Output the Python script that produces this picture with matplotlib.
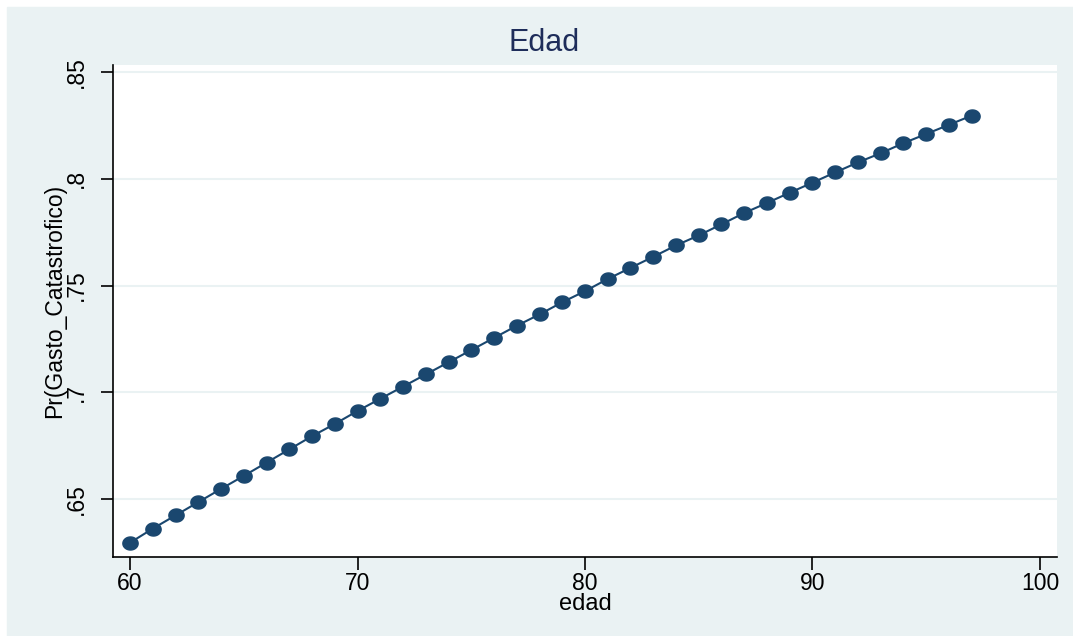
import numpy as np
import matplotlib.pyplot as plt
from matplotlib.patches import Rectangle
from matplotlib.path import Path

plt.rcParams['font.family'] = ['Liberation Sans', 'DejaVu Sans']

edad = list(range(60, 98))
prob = [0.6296, 0.6362, 0.6424, 0.6486, 0.6548, 0.6609, 0.6671, 0.6733,
        0.6795, 0.6852, 0.6913, 0.6970, 0.7027, 0.7084, 0.7141, 0.7198,
        0.7255, 0.7312, 0.7365, 0.7422, 0.7474, 0.7531, 0.7583, 0.7635,
        0.7688, 0.7735, 0.7787, 0.7840, 0.7887, 0.7935, 0.7982, 0.8030,
        0.8077, 0.8120, 0.8167, 0.8210, 0.8253, 0.8296]
yticks = [0.65, 0.70, 0.75, 0.80, 0.85]
ytick_labels = ['.65', '.7', '.75', '.8', '.85']
xticks = [60, 70, 80, 90, 100]

W, H = 1073, 636
fig = plt.figure(figsize=(W / 100, H / 100), dpi=100, facecolor='white')
# fondo azul claro estilo Stata, detras de los ejes
fig.add_artist(Rectangle((7 / W, 0), 1 - 7 / W, 1 - 7 / H,
                         transform=fig.transFigure, color='#EAF2F3', zorder=-10))

ax = fig.add_axes([113 / W, 1 - 557 / H, (1057 - 113) / W, (557 - 65) / H])
ax.set_facecolor('white')

# marcador algo ovalado (la imagen original esta estirada en horizontal)
t = np.linspace(0, 2 * np.pi, 40)
ovalo = Path(np.column_stack([1.17 * np.cos(t), np.sin(t)]), closed=True)
ax.plot(edad, prob, color='#1A476F', marker=ovalo, markersize=11,
        linewidth=1.5, zorder=3)

ax.set_xlim(59.25, 100.75)
ax.set_ylim(0.6229, 0.8533)
ax.set_xticks(xticks)
ax.set_yticks(yticks)
ax.set_yticklabels(ytick_labels, rotation=90, va='center')
ax.grid(axis='y', color='#EAF2F3', linewidth=1.5)
ax.set_axisbelow(True)
for s in ['top', 'right']:
    ax.spines[s].set_visible(False)
for s in ['left', 'bottom']:
    ax.spines[s].set_linewidth(1.2)
ax.tick_params(length=9, width=1.2, labelsize=16.5)
ax.tick_params(axis='x', pad=2)
ax.tick_params(axis='y', pad=9)

ax.set_xlabel('edad', fontsize=17)
ax.xaxis.set_label_coords(0.5, -0.073)
ax.set_ylabel('Pr(Gasto_Catastrofico)', fontsize=16.5)
ax.yaxis.set_label_coords(-0.05, 0.52)
fig.text(544 / W, 1 - 43 / H, 'Edad', fontsize=22, color='#1E2D5A', ha='center', va='center')

fig.savefig('out.png', dpi=100, facecolor=fig.get_facecolor())
